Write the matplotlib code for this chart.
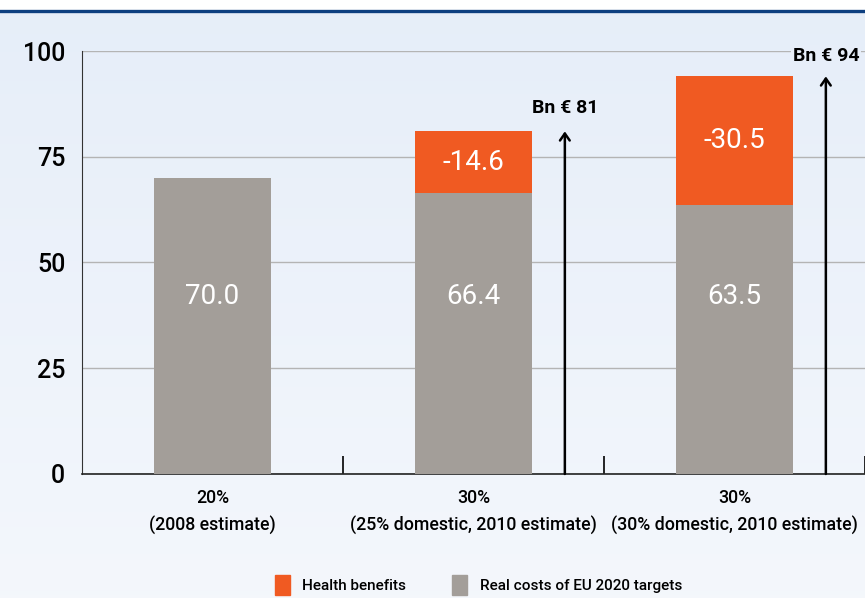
import numpy as np
import matplotlib.pyplot as plt
from matplotlib.patches import Patch

plt.rcParams['font.family'] = ['Roboto', 'DejaVu Sans']
plt.rcParams['font.weight'] = 'medium'

# Data
categories = ["20%\n(2008 estimate)",
              "30%\n(25% domestic, 2010 estimate)",
              "30%\n(30% domestic, 2010 estimate)"]
real_costs = [70.0, 66.4, 63.5]
health_benefits = [0.0, 14.6, 30.5]
totals = [None, 81, 94]

gray = "#a39e99"
orange = "#f05a22"

fig = plt.figure(figsize=(8.65, 5.98), dpi=100)

# gradient background
bg = fig.add_axes([0, 0, 1, 0.982], zorder=-10)
grad = np.linspace(0, 1, 256).reshape(-1, 1)
c_top = np.array([0.902, 0.933, 0.976])
c_bot = np.array([0.957, 0.969, 0.988])
img = c_top + (c_bot - c_top) * grad
bg.imshow(img[:, None, :].repeat(2, axis=1), aspect="auto", extent=[0, 1, 0, 1])
bg.set_axis_off()
fig.add_artist(plt.Line2D([0, 1], [0.982, 0.982], color="#0d3f80", lw=2.4,
                          transform=fig.transFigure))

ax = fig.add_axes([0.0948, 0.2074, 0.9052, 0.7073])
ax.patch.set_alpha(0)
x = np.arange(len(categories))
w = 0.448
ax.bar(x, real_costs, w, color=gray, zorder=3)
ax.bar(x, health_benefits, w, bottom=real_costs, color=orange, zorder=3)

for i in range(len(categories)):
    ax.text(x[i], 42, f"{real_costs[i]:.1f}", color="white", ha="center",
            va="center", fontsize=20, fontweight="normal", zorder=4)
    if health_benefits[i] > 0:
        ax.text(x[i], real_costs[i] + health_benefits[i] / 2,
                f"-{health_benefits[i]:.1f}", color="white", ha="center",
                va="center", fontsize=20, fontweight="normal", zorder=4)
    if totals[i] is not None:
        ax.annotate("", xy=(x[i] + 0.35, totals[i]), xytext=(x[i] + 0.35, 0),
                    arrowprops=dict(arrowstyle="->,head_length=0.5,head_width=0.35",
                                    color="black", lw=1.8, shrinkA=0, shrinkB=0),
                    zorder=5, annotation_clip=False)
ax.text(1.35, 86.6, "Bn \u20ac 81", ha="center", va="center", fontsize=14,
        fontweight="bold", zorder=5)
ax.text(2.35, 98.9, "Bn \u20ac 94", ha="center", va="center", fontsize=14,
        fontweight="bold", zorder=5, clip_on=False,
        bbox=dict(boxstyle="square,pad=0.1", fc="#e7eef9", ec="none"))

ax.set_xlim(-0.5, 2.5)
ax.set_ylim(0, 100)
ax.set_yticks([0, 25, 50, 75, 100])
ax.yaxis.grid(True, color="#b4b4b4", lw=1.0, zorder=0)
ax.tick_params(axis="y", length=0, pad=12, labelsize=18)

ax.set_xticks([0.5, 1.5, 2.5])
ax.set_xticklabels([])
ax.tick_params(axis="x", which="major", direction="in", length=13, width=1.2)
ax.set_xticks(x, minor=True)
ax.set_xticklabels(categories, minor=True, fontsize=12.8, linespacing=1.6)
ax.tick_params(axis="x", which="minor", length=0, pad=11)

for s in ["top", "right"]:
    ax.spines[s].set_visible(False)
ax.spines["left"].set_color("#333333")
ax.spines["bottom"].set_color("#222222")
ax.spines["bottom"].set_linewidth(1.2)

handles = [Patch(color=orange, label="Health benefits"),
           Patch(color=gray, label="Real costs of EU 2020 targets")]
leg = fig.legend(handles=handles, loc="center", bbox_to_anchor=(0.553, 0.022),
                 ncol=2, frameon=False, handlelength=1.0, handleheight=1.6,
                 columnspacing=3.0, prop=dict(size=11, weight="medium"))

fig.savefig("out.png", dpi=100)
